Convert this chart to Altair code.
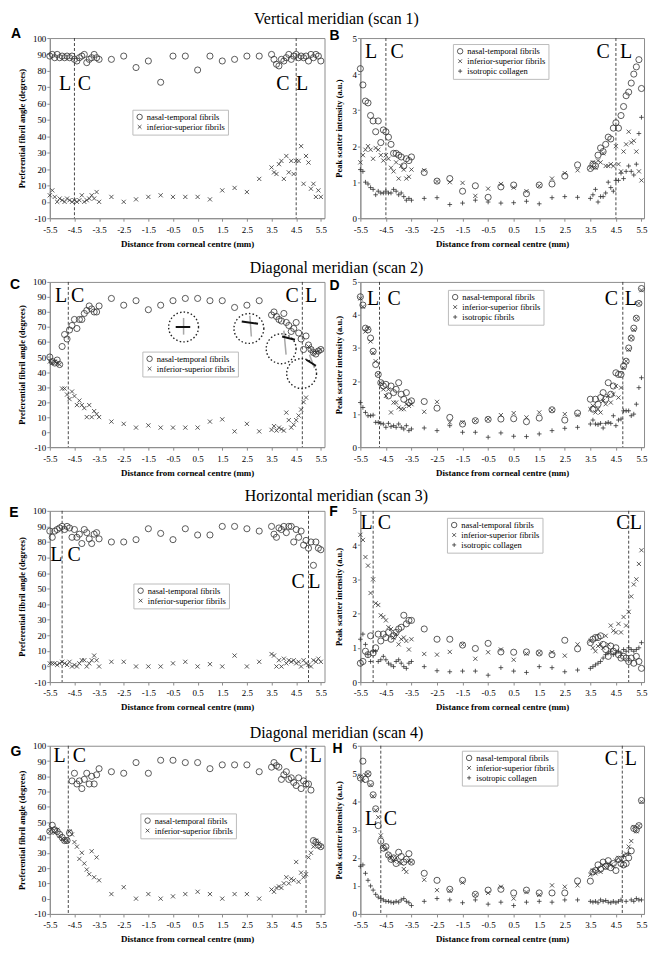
import altair as alt
import pandas as pd

# ---------------- scan positions & ticks ----------------
X_SCAN = [-5.5, -5.4, -5.3, -5.2, -5.1, -5.0, -4.9, -4.8, -4.7, -4.6, -4.5, -4.4, -4.3, -4.2, -4.1, -4.0, -3.9, -3.8, -3.7, -3.6, -3.5,
          -3.0, -2.5, -2.0, -1.5, -1.0, -0.5, 0.0, 0.5, 1.0, 1.5, 2.0, 2.5, 3.0,
          3.5, 3.6, 3.7, 3.8, 3.9, 4.0, 4.1, 4.2, 4.3, 4.4, 4.5, 4.6, 4.7, 4.8, 4.9, 5.0, 5.1, 5.2, 5.3, 5.4, 5.5]
X_TICKS = [-5.5, -4.5, -3.5, -2.5, -1.5, -0.5, 0.5, 1.5, 2.5, 3.5, 4.5, 5.5]
ANGLE_TICKS = [-10, 0, 10, 20, 30, 40, 50, 60, 70, 80, 90, 100]
INT5_TICKS = [0, 1, 2, 3, 4, 5]
INT6_TICKS = [0, 1, 2, 3, 4, 5, 6]

NT = "nasal-temporal fibrils"
IS = "inferior-superior fibrils"
ISO_C = "isotropic collagen"
ISO_F = "isotropic fibrils"

ROW_TITLES = ["Vertical meridian (scan 1)", "Diagonal meridian (scan 2)",
              "Horizontal meridian (scan 3)", "Diagonal meridian (scan 4)"]
LETTERS = ["A", "B", "C", "D", "E", "F", "G", "H"]

# ---------------- A: vertical, angle ----------------
A_NT = [89, 90, 88, 90, 88, 89, 88, 89, 88, 89, 87, 86, 88, 89, 90, 85, 87, 88, 90, 88, 87,
        87, 89, 82, 86, 73, 89, 89, 80.5, 89, 86, 87, 89, 89,
        90, 87, 84, 83, 87, 86, 88, 90, 87, 89, 90, 88, 89, 88, 89, 86, 90, 88, 90, 89, 86]
A_IS = [4, 7, 3, 0, 2, 1, 0, 2, 1, 0, 1, 0, 1, 4, 0, 1, 2, 4, 2, 6, 0,
        3, 0, 1.5, 3, 4, 3, 3, 3, 1.5, 7, 8.5, 6, 14,
        21, 18, 17, 23, 25, 14, 28, 18, 25, 17, 25, 25, 34, 11, 28, 24, 8, 11, 3, 7, 3]
# ---------------- B: vertical, intensity ----------------
B_NT = [4.15, 3.7, 3.25, 3.2, 2.85, 2.7, 2.4, 2.7, 2.1, 2.45, 2.4, 2.25, 2.05, 1.8, 1.8, 1.75, 1.7, 1.45, 1.65, 1.6, 1.7,
        1.27, 1.03, 1.1, 0.75, 0.9, 0.58, 0.87, 0.92, 0.68, 0.92, 0.95, 1.17, 1.48,
        1.38, 1.5, 1.45, 1.75, 1.95, 1.85, 2.05, 2.25, 2.2, 2.5, 2.65, 2.5, 2.85, 3.1, 3.4, 3.5, 3.75, 4.0, 4.2, 4.4, 3.6]
B_IS = [1.55, 1.75, 1.9, 2.0, 1.9, 1.65, 1.95, 1.9, 1.75, 1.6, 1.75, 1.65, 1.4, 1.3, 1.55, 1.1, 1.45, 1.35, 1.1, 1.15, 1.35,
        1.33, 1.02, 1.0, 0.98, 0.62, 0.82, 0.95, 0.85, 0.75, 0.9, 1.1, 1.25, 1.33,
        1.4, 1.55, 1.4, 1.6, 1.55, 1.8, 1.45, 1.45, 1.5, 1.45, 2.0, 1.5, 1.3, 1.85, 2.05, 2.4, 2.1, 2.15, 1.85, 1.3, 1.05]
B_ISO = [1.35, 1.3, 1.0, 0.95, 0.85, 0.8, 0.65, 0.75, 0.7, 0.7, 0.75, 0.7, 0.7, 0.8, 0.75, 0.65, 0.7, 0.6, 0.5, 0.55, 0.5,
         0.55, 0.57, 0.38, 0.42, 0.5, 0.45, 0.42, 0.43, 0.47, 0.4, 0.57, 0.6, 0.58,
         0.55, 0.65, 0.8, 0.45, 0.6, 0.6, 0.7, 1.0, 0.85, 0.75, 1.05, 1.05, 1.25, 1.1, 1.3, 1.45, 1.3, 1.2, 1.5, 2.35, 2.8]
# ---------------- C: diagonal scan 2, angle ----------------
C_NT = [50, 47, 46, 48, 45, 57, 65, 62, 68, 71, 75, 69, 75, 75, 79, 81, 84, 82, 80, 80, 84,
        89, 84.5, 87.5, 81.5, 84.5, 87.5, 89, 89, 87.5, 87.5, 83, 84.5, 87.5,
        78, 80, 77, 75, 74, 79, 73, 71, 67, 69, 73, 66, 62, 55, 64, 58, 55, 53, 52, 54, 55]
C_IS = [47, 46, 47, 46, 45, 29, 29, 25, 22, 27, 24, 18, 21, 18, 16, 10, 18, 10, 14, 12, 10,
        7, 5.5, 3, 4.5, 3, 3, 3, 3, 7, 8.5, 0.5, 5.5, 0.5,
        1.5, 4, 1, 3, 2, 1, 13, 8, 3, 5, 8, 11, 15, 20, 23, 57, 55, 53, 53, 54, 55]
# inset rings of panel C (fibril orientation sketches)
C_RING_X = [-0.07, 2.58, 3.89, 4.72]
C_RING_Y = [70, 69, 55.5, 39]
C_BLACK_X1 = [-0.39, 2.29, 3.93, 4.91]
C_BLACK_X2 = [0.2, 2.95, 4.45, 5.3]
C_BLACK_Y1 = [70, 73.7, 63.7, 48.2]
C_BLACK_Y2 = [70, 72.2, 61.5, 44.2]
C_GRAY_X1 = [-0.07, 2.62, 4.0, 5.04]
C_GRAY_X2 = [-0.07, 2.68, 4.09, 5.24]
C_GRAY_Y1 = [76, 77.5, 67.6, 51.5]
C_GRAY_Y2 = [64.9, 63.7, 51.6, 42.7]
# ---------------- D: diagonal scan 2, intensity ----------------
D_NT = [4.55, 4.3, 3.6, 3.55, 3.3, 2.9, 2.5, 2.2, 1.95, 1.85, 1.9, 1.55, 1.85, 1.65, 1.75, 1.95, 1.6, 1.45, 1.65, 1.35, 1.4,
        1.38, 1.18, 0.9, 0.7, 0.8, 0.84, 0.85, 0.86, 0.77, 0.88, 1.13, 0.82, 1.03,
        1.45, 1.15, 1.45, 1.3, 1.5, 1.65, 1.45, 1.95, 1.6, 1.85, 2.25, 2.2, 2.2, 2.45, 2.6, 3.0, 3.3, 3.6, 3.9, 4.35, 4.8]
D_IS = [4.5, 4.25, 3.5, 3.6, 3.2, 2.85, 2.6, 2.2, 1.95, 1.75, 1.55, 1.75, 1.05, 1.35, 1.35, 1.2, 1.15, 1.15, 1.3, 1.25, 1.3,
        1.07, 1.37, 0.75, 0.75, 0.8, 0.85, 0.97, 1.03, 0.9, 1.05, 1.12, 1.0, 0.97,
        1.15, 1.25, 1.05, 1.15, 1.05, 1.4, 1.3, 1.55, 1.35, 1.6, 1.85, 1.5, 1.8, 2.4, 2.6, 2.95, 3.3, 3.55, 3.9, 4.35, 4.75]
D_ISO = [1.35, 1.2, 1.05, 0.95, 0.95, 0.97, 0.75, 0.75, 0.72, 0.7, 0.6, 0.72, 0.62, 0.65, 0.6, 0.7, 0.6, 0.55, 0.65, 0.5, 0.55,
         0.58, 0.5, 0.65, 0.45, 0.45, 0.3, 0.43, 0.33, 0.32, 0.4, 0.5, 0.57, 0.6,
         0.7, 0.82, 0.7, 0.68, 0.72, 0.58, 0.72, 0.75, 0.72, 0.95, 0.65, 0.82, 0.85, 1.1, 1.1, 1.1, 0.95, 1.0, 1.3, 1.8, 2.1]
# ---------------- E: horizontal, angle ----------------
E_NT = [87, 83, 87, 88, 89, 90, 88, 90, 89, 83, 88, 83, 85, 79, 88, 86, 82, 79, 85, 86, 82,
        80, 80, 81.5, 88.5, 85.5, 81.5, 88.5, 84.5, 84.5, 90, 90, 88.5, 87,
        90, 85, 83, 89, 88, 90, 86, 90, 90, 80, 88, 83, 87, 78, 81, 76, 80, 65, 80, 76, 75]
E_IS = [2, 2, 2, 1, 2, 3, 2, 1, 3, 0, 1, 0, 2, 4, 4, 0, 2, 4, 7, 4, 0,
        3, 3, 0, 0, 0, 2, 3, 0, 1.5, 0, 7, 0, 3,
        8, 7, 0, 4, 0, 5, 2, 4, 3, 4, 2, 3, 0, 4, 2, 1, 0, 4, 3, 5, 3]
# ---------------- F: horizontal, intensity ----------------
F_NT = [0.55, 0.6, 0.9, 0.8, 1.35, 0.85, 1.0, 1.4, 1.2, 1.4, 1.3, 1.45, 1.25, 1.35, 1.45, 1.55, 1.6, 1.95, 1.7, 1.8, 1.8,
        1.55, 1.25, 1.25, 1.08, 0.98, 1.13, 0.88, 0.87, 0.88, 0.85, 0.8, 1.22, 0.97,
        1.15, 1.25, 1.3, 1.3, 1.35, 1.1, 0.95, 0.75, 1.05, 0.9, 1.0, 0.8, 0.7, 0.75, 0.7, 0.6, 0.7, 0.55, 0.75, 0.6, 0.4]
F_IS = [4.3, 4.15, 3.65, 3.4, 2.6, 3.0, 2.3, 2.25, 1.95, 1.9, 1.8, 1.6, 1.55, 1.3, 1.4, 1.1, 1.25, 1.3, 1.2, 0.95, 1.25,
        0.82, 0.8, 0.88, 1.1, 0.68, 0.87, 0.95, 0.65, 0.83, 0.85, 0.87, 0.77, 1.1,
        1.2, 1.0, 0.9, 1.05, 1.1, 1.0, 1.35, 1.1, 1.65, 1.5, 1.45, 1.7, 1.45, 1.9, 1.65, 2.05, 2.5, 2.85, 3.0, 3.45, 3.85]
F_ISO = [1.25, 1.4, 1.1, 0.8, 0.6, 0.9, 0.9, 0.6, 0.65, 0.75, 0.65, 0.55, 0.5, 0.45, 0.6, 0.65, 0.55, 0.45, 0.4, 0.55, 0.6,
         0.45, 0.33, 0.3, 0.32, 0.32, 0.2, 0.42, 0.32, 0.28, 0.45, 0.42, 0.3, 0.35,
         0.4, 0.45, 0.5, 0.55, 0.6, 0.7, 0.8, 0.85, 0.9, 0.8, 0.85, 0.9, 0.85, 0.95, 0.9, 1.0, 0.95, 0.9, 0.95, 1.0, 1.15]
# ---------------- G: diagonal scan 4, angle ----------------
G_NT = [44, 48, 45, 44, 42, 40, 38, 38, 43, 77, 82, 75, 77, 72, 78, 82, 75, 80, 75, 81, 85,
        83, 82, 89, 82, 90.5, 90.5, 89, 89, 85, 87.5, 87.5, 87.5, 83,
        86, 89, 87, 86, 78, 81, 83, 78, 79, 76, 74, 79, 72, 77, 75, 75, 71, 38, 37, 35, 34]
G_IS = [44, 46, 43, 45, 41, 39, 38, 38, 44, 42, 37, 34, 26, 30, 23, 19, 16, 31, 14, 27, 12,
        3, 7.5, 0, 3, 0, 1.5, 3, 4.5, 3, 0, 3, 3, 0,
        6, 4.5, 7, 8, 7, 10, 14, 10, 13, 12, 24, 11, 17, 14, 16, 27, 30, 34, 38, 36, 34]
# ---------------- H: diagonal scan 4, intensity ----------------
H_NT = [4.85, 5.45, 4.8, 5.0, 4.65, 4.25, 3.75, 3.15, 2.6, 2.35, 2.4, 2.1, 1.95, 2.0, 1.8, 2.2, 2.05, 1.85, 1.95, 2.15, 1.85,
        1.45, 1.2, 0.88, 1.2, 0.7, 0.85, 0.88, 0.75, 0.85, 0.75, 0.75, 0.75, 1.18,
        1.17, 1.5, 1.55, 1.75, 1.6, 1.85, 1.7, 1.9, 1.65, 1.8, 1.55, 1.95, 1.8, 1.75, 1.8, 2.0, 2.25, 3.05, 3.0, 3.15, 4.05]
H_IS = [4.9, 4.75, 4.95, 5.0, 4.6, 4.2, 3.7, 3.45, 2.8, 2.4, 2.3, 2.1, 2.0, 1.9, 2.0, 1.85, 1.8, 1.6, 1.5, 1.9, 1.85,
        1.22, 0.85, 0.83, 1.12, 0.68, 0.75, 0.97, 0.55, 0.78, 0.68, 1.02, 0.97, 1.02,
        1.4, 1.55, 1.45, 1.6, 1.5, 1.75, 1.65, 1.8, 1.75, 1.7, 1.9, 2.0, 1.9, 2.1, 2.15, 2.4, 2.6, 3.1, 2.95, 3.15, 4.0]
H_ISO = [1.7, 1.75, 1.45, 1.2, 1.0, 0.85, 0.7, 0.6, 0.55, 0.5, 0.45, 0.45, 0.42, 0.4, 0.45, 0.42, 0.5, 0.55, 0.45, 0.4, 0.3,
         0.45, 0.55, 0.5, 0.4, 0.5, 0.35, 0.42, 0.3, 0.42, 0.45, 0.42, 0.5, 0.5,
         0.45, 0.42, 0.45, 0.4, 0.5, 0.45, 0.48, 0.42, 0.4, 0.45, 0.4, 0.45, 0.5, 2.05, 0.45, 2.15, 0.5, 0.45, 0.55, 0.5, 0.5]

# limbus (dashed) positions and "L"/"C" annotations: (label, x, y)
LIMBUS = {"A": [-4.5, 4.5], "B": [-4.5, 4.5], "C": [-4.75, 4.75], "D": [-4.75, 4.77],
          "E": [-5.0, 5.0], "F": [-5.0, 5.0], "G": [-4.75, 4.9], "H": [-4.7, 4.75]}
LC_TEXT = {
    "A": [("L", -4.88, 72), ("C", -4.1, 72), ("C", 3.96, 72), ("L", 4.74, 72)],
    "B": [("L", -5.08, 4.6), ("C", -4.06, 4.6), ("C", 4.0, 4.6), ("L", 4.9, 4.6)],
    "C": [("L", -5.04, 90.4), ("C", -4.37, 90.4), ("C", 4.34, 90.4), ("L", 5.1, 90.4)],
    "D": [("L", -5.0, 4.47), ("C", -4.18, 4.47), ("C", 4.32, 4.47), ("L", 5.08, 4.47)],
    "E": [("L", -5.24, 71.3), ("C", -4.51, 71.3), ("C", 4.58, 54.5), ("L", 5.24, 54.5)],
    "F": [("L", -5.26, 4.65), ("C", -4.56, 4.65), ("C", 4.77, 4.65), ("L", 5.28, 4.65)],
    "G": [("L", -5.1, 93), ("C", -4.3, 93), ("C", 4.5, 93), ("L", 5.3, 93)],
    "H": [("L", -5.08, 3.4), ("C", -4.32, 3.4), ("C", 4.32, 5.54), ("L", 5.08, 5.54)],
}

SHAPES = {"circle": "circle",
          "x": "M-0.68,-0.68L0.68,0.68M-0.68,0.68L0.68,-0.68",
          "plus": "M-0.75,0L0.75,0M0,-0.75L0,0.75"}

W_LEFT, W_RIGHT = 276, 285
ROW_H = [181, 166, 172, 169]
TITLE_DY = [-14, -9, -9.5, -7.5]

SERIF = "Liberation Serif"
NEG = "(datum.value < 0 ? '-' : '') + format(abs(datum.value), '{}')"


def make_panel(letter, series, ydom, yticks, ytitle, width, height, legend_xy, letter_xy,
               row_title=None, title_dy=0, extras=None):
    rows = []
    for label, kind, vals in series:
        for xv, yv in zip(X_SCAN, vals):
            rows.append({"x": xv, "y": yv, "series": label})
    df = pd.DataFrame(rows)
    labels = [s[0] for s in series]
    shapes = [SHAPES[s[1]] for s in series]
    xdom = [-5.5, 5.65] if width == W_LEFT else [-5.5, 5.6]
    is_angle = ydom[0] < 0
    x_enc = alt.X("x:Q", scale=alt.Scale(domain=xdom, nice=False, zero=False),
                  axis=alt.Axis(values=X_TICKS, title="Distance from corneal centre (mm)",
                                labelExpr=NEG.format(".1f"), labelFlush=False, labelOverlap=False,
                                labelPadding=4, titlePadding=5))
    y_enc = alt.Y("y:Q", scale=alt.Scale(domain=ydom, nice=False, zero=False),
                  axis=alt.Axis(values=yticks, title=ytitle, labelExpr=NEG.format("d"),
                                labelFlush=False, labelOverlap=False, labelPadding=1,
                                titlePadding=6 if is_angle else 8, titleFontSize=8.5))

    rule = alt.Chart(pd.DataFrame({"x": LIMBUS[letter]})).mark_rule(
        strokeDash=[3, 2], color="#333", strokeWidth=0.9).encode(x=x_enc)

    pts = alt.Chart(df).mark_point(filled=False, strokeWidth=0.8, color="#333", opacity=1, size=38).encode(
        x=x_enc, y=y_enc,
        shape=alt.Shape("series:N", scale=alt.Scale(domain=labels, range=shapes),
                        legend=alt.Legend(orient="none", legendX=legend_xy[0], legendY=legend_xy[1],
                                          title=None, strokeColor="#bbb", fillColor="white",
                                          padding=3, rowPadding=1, labelFont=SERIF, labelFontSize=8.5,
                                          labelColor="black", symbolSize=30, symbolStrokeWidth=0.8,
                                          symbolStrokeColor="#333", symbolFillColor="transparent",
                                          labelOffset=3, labelLimit=200)),
    )

    lc = LC_TEXT[letter]
    lc_df = pd.DataFrame({"t": [a[0] for a in lc], "x": [a[1] for a in lc], "y": [a[2] for a in lc]})
    lc_layer = alt.Chart(lc_df).mark_text(font=SERIF, fontSize=20, color="black",
                                          baseline="middle").encode(x=x_enc, y=y_enc, text="t:N")

    let_layer = alt.Chart(pd.DataFrame({"t": [letter]})).mark_text(
        font="Liberation Sans", fontWeight="bold", fontSize=14, color="black",
        align="center", baseline="middle").encode(
        x=alt.value(letter_xy[0]), y=alt.value(letter_xy[1]), text="t:N")

    layers = [rule, pts, lc_layer, let_layer]
    if extras is not None:
        layers += extras(x_enc, y_enc)
    if row_title is not None:
        layers.append(alt.Chart(pd.DataFrame({"t": [row_title]})).mark_text(
            font=SERIF, fontSize=16, color="black", align="center", baseline="alphabetic").encode(
            x=alt.value(width + 12), y=alt.value(title_dy), text="t:N"))
    return alt.layer(*layers).properties(width=width, height=height)


def c_insets(x_enc, y_enc):
    ring_df = pd.DataFrame({"x": C_RING_X, "y": C_RING_Y})
    rings = alt.Chart(ring_df).mark_point(shape="circle", size=900, filled=False, strokeDash=[1.5, 2.2],
                                          strokeWidth=1.4, color="#222", opacity=1).encode(x=x_enc, y=y_enc)
    bl = pd.DataFrame({"x": C_BLACK_X1, "x2": C_BLACK_X2, "y": C_BLACK_Y1, "y2": C_BLACK_Y2})
    gr = pd.DataFrame({"x": C_GRAY_X1, "x2": C_GRAY_X2, "y": C_GRAY_Y1, "y2": C_GRAY_Y2})
    gray = alt.Chart(gr).mark_rule(color="#a8a8a8", strokeWidth=1.5).encode(
        x=x_enc, x2="x2:Q", y=y_enc, y2="y2:Q")
    black = alt.Chart(bl).mark_rule(color="#111", strokeWidth=2).encode(
        x=x_enc, x2="x2:Q", y=y_enc, y2="y2:Q")
    return [rings, gray, black]


ANG = "Preferential fibril angle (degrees)"
INT = "Peak scatter intensity (a.u.)"

pA = make_panel("A", [(NT, "circle", A_NT), (IS, "x", A_IS)], [-10, 100], ANGLE_TICKS, ANG,
                W_LEFT, ROW_H[0], (83, 72), (-34, -4), ROW_TITLES[0], TITLE_DY[0])
pB = make_panel("B", [(NT, "circle", B_NT), (IS, "x", B_IS), (ISO_C, "plus", B_ISO)], [0, 5], INT5_TICKS, INT,
                W_RIGHT, ROW_H[0], (93, 6), (-26, -2))
pC = make_panel("C", [(NT, "circle", C_NT), (IS, "x", C_IS)], [-10, 100], ANGLE_TICKS, ANG,
                W_LEFT, ROW_H[1], (93, 70), (-35, 3), ROW_TITLES[1], TITLE_DY[1], extras=c_insets)
pD = make_panel("D", [(NT, "circle", D_NT), (IS, "x", D_IS), (ISO_F, "plus", D_ISO)], [0, 5], INT5_TICKS, INT,
                W_RIGHT, ROW_H[1], (88, 8), (-26, 4))
pE = make_panel("E", [(NT, "circle", E_NT), (IS, "x", E_IS)], [-10, 100], ANGLE_TICKS, ANG,
                W_LEFT, ROW_H[2], (84, 73), (-36, 2), ROW_TITLES[2], TITLE_DY[2])
pF = make_panel("F", [(NT, "circle", F_NT), (IS, "x", F_IS), (ISO_C, "plus", F_ISO)], [0, 5], INT5_TICKS, INT,
                W_RIGHT, ROW_H[2], (87, 7), (-27, 1))
pG = make_panel("G", [(NT, "circle", G_NT), (IS, "x", G_IS)], [-10, 100], ANGLE_TICKS, ANG,
                W_LEFT, ROW_H[3], (91, 68), (-34, 6), ROW_TITLES[3], TITLE_DY[3])
pH = make_panel("H", [(NT, "circle", H_NT), (IS, "x", H_IS), (ISO_C, "plus", H_ISO)], [0, 6], INT6_TICKS, INT,
                W_RIGHT, ROW_H[3], (102, 5), (-23, 3))

chart = alt.concat(pA, pB, pC, pD, pE, pF, pG, pH, columns=2,
                   spacing={"row": 64, "column": 36}, bounds="flush").resolve_scale(
    x="independent", y="independent", shape="independent").resolve_legend(
    shape="independent").properties(padding=0).configure_view(
    stroke="#8c8c8c", strokeWidth=1).configure_axis(
    domainColor="#8c8c8c", tickColor="#8c8c8c", tickSize=3, grid=False,
    labelFont=SERIF, labelFontSize=9, labelColor="black",
    titleFont=SERIF, titleFontSize=9, titleFontWeight="bold", titleColor="black")

chart.save("out.html", embed_options={"renderer": "svg", "actions": False})
